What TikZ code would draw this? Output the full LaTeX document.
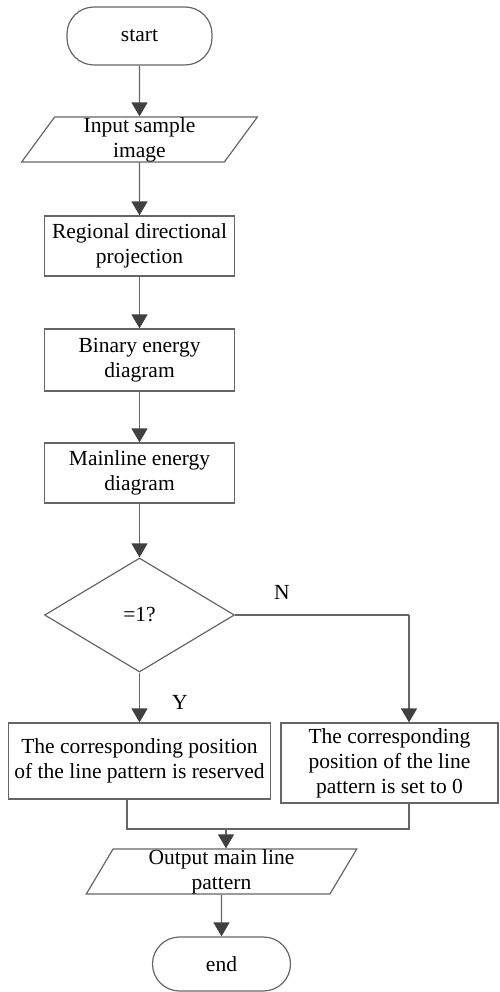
\documentclass[tikz,border=0pt]{standalone}
\usepackage{fontspec}
\setmainfont{Liberation Serif}
\usepackage{tikz}
\usetikzlibrary{shapes.geometric,arrows.meta}

\begin{document}
\begin{tikzpicture}[x=1pt,y=1pt,yscale=-1,xscale=1,
    font=\fontsize{21.5}{25}\selectfont,
    term/.style={draw=black!60,line width=1.2pt,rectangle,rounded corners=27pt,inner sep=0pt},
    iobox/.style={draw=black!60,line width=1.2pt,trapezium,trapezium left angle=64,trapezium right angle=116,
        trapezium stretches=true,minimum width=236pt,minimum height=45pt,inner sep=0pt,align=center},
    procbox/.style={draw=black!60,line width=1.2pt,rectangle,inner sep=0pt,align=center},
    decbox/.style={draw=black!60,line width=1.2pt,diamond,aspect=1.67,minimum width=190pt,minimum height=114pt,inner sep=0pt},
    arr/.style={draw=black!60,line width=1.3pt,-{Triangle[width=16pt,length=14pt,color=black!75]}},
    lin/.style={draw=black!60,line width=1.3pt}]
        \useasboundingbox (0,0) rectangle (499,992);

        \node[term,minimum width=145pt,minimum height=58pt] (start) at (139.5,36) {start};
        \node[iobox] (input) at (139.5,139.5) {Input sample\\image};
        \node[procbox,minimum width=190pt,minimum height=60pt] (proj) at (139.5,246) {Regional directional\\projection};
        \node[procbox,minimum width=190pt,minimum height=62pt] (binary) at (139.5,360) {Binary energy\\diagram};
        \node[procbox,minimum width=190pt,minimum height=60pt] (mainline) at (139.5,473) {Mainline energy\\diagram};
        \node[decbox] (check) at (139.5,615) {=1?};
        \node[procbox,minimum width=262pt,minimum height=76pt] (keep) at (139.5,761) {The corresponding position\\of the line pattern is reserved};
        \node[procbox,minimum width=217pt,minimum height=80pt] (zero) at (389.5,763) {The corresponding\\position of the line\\pattern is set to 0};
        \node[iobox,minimum width=271pt,trapezium left angle=68,trapezium right angle=112] (output) at (221.5,871.5) {Output main line\\pattern};
        \node[term,minimum width=138pt,minimum height=54pt] (end) at (221.5,964) {end};

        \node (nlab) at (282,592) {N};
        \node (ylab) at (180,702) {Y};

        \coordinate (nturn) at (409,615);
        \coordinate (lleg) at (127,829);
        \coordinate (rleg) at (409,829);
        \coordinate (merge) at (226,829);

        \draw[arr] (start) -- (input);
        \draw[arr] (input) -- (proj);
        \draw[arr] (proj) -- (binary);
        \draw[arr] (binary) -- (mainline);
        \draw[arr] (mainline) -- (check);
        \draw[arr] (check) -- (keep);
        \draw[lin] (check.east) -- (nturn);
        \draw[arr] (nturn) -- (nturn |- zero.north);
        \draw[lin] (lleg |- keep.south) -- (lleg) -- (rleg) -- (rleg |- zero.south);
        \draw[arr] (merge) -- (merge |- output.north);
        \draw[arr] (output) -- (end);
    \end{tikzpicture}
\end{document}
